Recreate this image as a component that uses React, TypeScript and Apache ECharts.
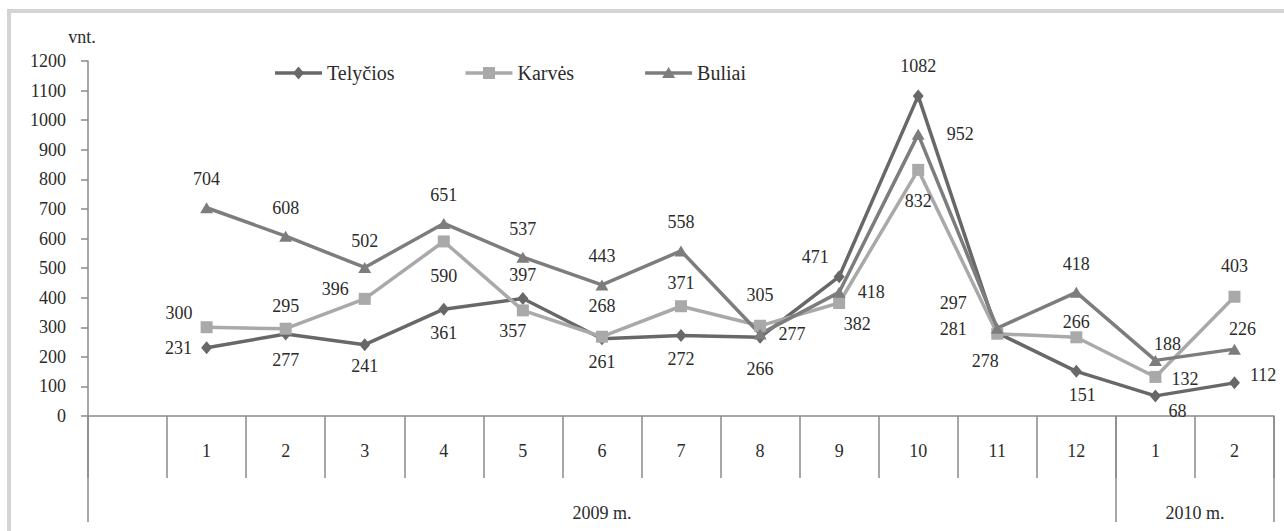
import React, { useEffect, useRef } from 'react';
import * as echarts from 'echarts';

// ---- data ----
const categories = ['', '1', '2', '3', '4', '5', '6', '7', '8', '9', '10', '11', '12', '1', '2'];
const yearLabels = ['2009 m.', '2010 m.'];
const yearStartIndex = [0, 13];
const seriesNames = ['Telyčios', 'Karvės', 'Buliai'];
const telycios = [null, 231, 277, 241, 361, 397, 261, 272, 266, 471, 1082, 281, 151, 68, 112];
const karves = [null, 300, 295, 396, 590, 357, 268, 371, 305, 382, 832, 278, 266, 132, 403];
const buliai = [null, 704, 608, 502, 651, 537, 443, 558, 277, 418, 952, 297, 418, 188, 226];
const yMin = 0;
const yMax = 1200;
const yStep = 100;
const yUnit = 'vnt.';

// ---- label placement (style) : [position, distance, dx, dy] ----
type LP = [string, number, number, number];
const telyciosLabels: LP[] = [
  ['top', 0, 0, 0],
  ['left', 9, 0, 0], ['bottom', 10, 0, 0], ['bottom', 6, 0, 0], ['bottom', 8, 0, 0],
  ['top', 8, 0, 0], ['bottom', 8, 0, 0], ['bottom', 8, 0, 0], ['bottom', 16, 0, 0],
  ['top', 4, -24, 0], ['top', 14, 0, 0], ['left', 25, 0, -4], ['bottom', 8, 6, 0],
  ['bottom', 0, 22, 0], ['right', 10, 0, -8],
];
const karvesLabels: LP[] = [
  ['top', 0, 0, 0],
  ['left', 8, 0, -14], ['top', 8, 0, 0], ['left', 10, 0, -10], ['bottom', 20, 0, 0],
  ['bottom', 6, -10, 0], ['top', 16, 0, 0], ['top', 8, 0, 0], ['top', 16, 0, 0],
  ['bottom', 6, 18, 0], ['bottom', 16, 0, 0], ['bottom', 12, -12, 0], ['top', 0, 0, 0],
  ['right', 10, 0, 2], ['top', 16, 0, 0],
];
const buliaiLabels: LP[] = [
  ['top', 0, 0, 0],
  ['top', 14, 0, 0], ['top', 14, 0, 0], ['top', 12, 0, 0], ['top', 14, 0, 0],
  ['top', 14, 0, 0], ['top', 14, 0, 0], ['top', 14, 0, 0], ['right', 12, 0, 0],
  ['right', 12, 0, 0], ['right', 22, 0, 0], ['left', 24, 0, -25], ['top', 14, 0, 0],
  ['top', 2, 12, 0], ['top', 6, 8, 0],
];

const FONT = "'Liberation Serif', 'Times New Roman', serif";
const TEXT = '#2b2b2b';
const AXIS = '#8a8a8a';
const COLORS = ['#686868', '#a9a9a9', '#7d7d7d'];
const SYMBOLS = ['diamond', 'rect', 'triangle'];

function buildData(values: (number | null)[], labels: LP[]) {
  return values.map((v, i) => {
    if (v == null) return null;
    const [position, distance, dx, dy] = labels[i];
    return { value: v, label: { position, distance, offset: [dx, dy] } };
  });
}

function makeSeries(name: string, values: (number | null)[], labels: LP[], color: string, symbol: string, symbolSize: number | number[]) {
  return {
    name,
    type: 'line',
    data: buildData(values, labels),
    symbol,
    symbolSize,
    showSymbol: true,
    lineStyle: { color, width: 3.5 },
    itemStyle: { color },
    label: {
      show: true,
      fontFamily: FONT,
      fontSize: 18,
      color: TEXT,
    },
    emphasis: { disabled: true },
  };
}

function legendSymbol(kind: string, cx: number, cy: number, color: string) {
  if (kind === 'diamond') {
    return { type: 'polygon', silent: true, shape: { points: [[cx, cy - 6.5], [cx + 5.5, cy], [cx, cy + 6.5], [cx - 5.5, cy]] }, style: { fill: color } };
  }
  if (kind === 'rect') {
    return { type: 'rect', silent: true, shape: { x: cx - 6, y: cy - 6, width: 12, height: 12 }, style: { fill: color } };
  }
  return { type: 'polygon', silent: true, shape: { points: [[cx, cy - 6], [cx + 6.5, cy + 5], [cx - 6.5, cy + 5]] }, style: { fill: color } };
}

export default function App() {
  const ref = useRef<HTMLDivElement>(null);
  useEffect(() => {
    const chart = echarts.init(ref.current!, null, { renderer: 'svg' });
    const option: any = {
      animation: false,
      backgroundColor: '#ffffff',
      textStyle: { fontFamily: FONT, color: TEXT },
      grid: { left: 88, right: 10, top: 61, bottom: 115, containLabel: false, outerBoundsMode: 'none' },
      legend: { show: false, data: seriesNames },
      xAxis: [
        {
          type: 'category',
          data: categories,
          boundaryGap: true,
          axisLine: { show: true, lineStyle: { color: AXIS, width: 1.5 } },
          axisTick: { show: true, length: 62, alignWithLabel: false, interval: 0, lineStyle: { color: AXIS, width: 1.5 } },
          axisLabel: { show: true, interval: 0, margin: 26, fontFamily: FONT, fontSize: 18, color: TEXT },
          splitLine: { show: false },
        },
        {
          type: 'category',
          data: categories,
          position: 'bottom',
          boundaryGap: true,
          axisLine: { show: false },
          axisTick: {
            show: true,
            length: 106,
            alignWithLabel: false,
            interval: (idx: number) => yearStartIndex.includes(idx),
            lineStyle: { color: AXIS, width: 1.5 },
          },
          axisLabel: { show: false },
          splitLine: { show: false },
        },
      ],
      yAxis: {
        type: 'value',
        min: yMin,
        max: yMax,
        interval: yStep,
        axisLine: { show: true, lineStyle: { color: AXIS, width: 1.5 } },
        axisTick: { show: true, length: 7, lineStyle: { color: AXIS, width: 1.5 } },
        axisLabel: { margin: 22, fontFamily: FONT, fontSize: 18, color: TEXT, formatter: (v: number) => String(v) },
        splitLine: { show: false },
      },
      series: [
        makeSeries(seriesNames[0], telycios, telyciosLabels, COLORS[0], 'diamond', [11, 13]),
        makeSeries(seriesNames[1], karves, karvesLabels, COLORS[1], 'rect', 12),
        makeSeries(seriesNames[2], buliai, buliaiLabels, COLORS[2], 'triangle', [13, 11]),
      ],
    };
    chart.setOption(option);

    const px = (i: number) => chart.convertToPixel({ xAxisIndex: 0 }, i) as unknown as number;
    const y0 = chart.convertToPixel({ yAxisIndex: 0 }, 0) as unknown as number;
    const yTop = chart.convertToPixel({ yAxisIndex: 0 }, yMax) as unknown as number;
    const xAxisX = px(0) - (px(1) - px(0)) / 2;
    const x2009 = (px(0) + px(12)) / 2;
    const x2010 = (px(13) + px(14)) / 2;

    const canvas = document.createElement('canvas');
    const ctx = canvas.getContext('2d')!;
    ctx.font = `20px ${FONT}`;
    const legendItems: any[] = [];
    let lx = 275;
    const ly = 73;
    const iconW = 47;
    seriesNames.forEach((name, i) => {
      legendItems.push({
        type: 'line', silent: true,
        shape: { x1: lx, y1: ly, x2: lx + iconW, y2: ly },
        style: { stroke: COLORS[i], lineWidth: 3.5 },
      });
      legendItems.push(legendSymbol(SYMBOLS[i], lx + iconW / 2, ly, COLORS[i]));
      legendItems.push({
        type: 'text', silent: true, x: lx + iconW + 5, y: ly,
        style: { text: name, align: 'left', verticalAlign: 'middle', fontFamily: FONT, fontSize: 20, fill: TEXT },
      });
      const tw = ctx.measureText(name).width;
      lx += iconW + 5 + tw + 71;
    });

    chart.setOption({
      graphic: [
        {
          type: 'rect',
          silent: true,
          z: -10,
          shape: { x: 9, y: 11, width: 1320, height: 600 },
          style: { fill: 'none', stroke: '#d4d4d4', lineWidth: 4 },
        },
        {
          type: 'text',
          silent: true,
          x: xAxisX - 6,
          y: yTop - 24,
          style: { text: yUnit, align: 'center', verticalAlign: 'middle', fontFamily: FONT, fontSize: 18, fill: TEXT },
        },
        {
          type: 'text',
          silent: true,
          x: x2009,
          y: y0 + 97,
          style: { text: yearLabels[0], align: 'center', verticalAlign: 'middle', fontFamily: FONT, fontSize: 18, fill: TEXT },
        },
        {
          type: 'text',
          silent: true,
          x: x2010,
          y: y0 + 97,
          style: { text: yearLabels[1], align: 'center', verticalAlign: 'middle', fontFamily: FONT, fontSize: 18, fill: TEXT },
        },
        ...legendItems,
      ],
    });
    return () => chart.dispose();
  }, []);
  return (
    <div
      ref={ref}
      style={{ position: 'absolute', left: 0, top: 0, width: 1284, height: 531, background: '#fff' }}
    />
  );
}
